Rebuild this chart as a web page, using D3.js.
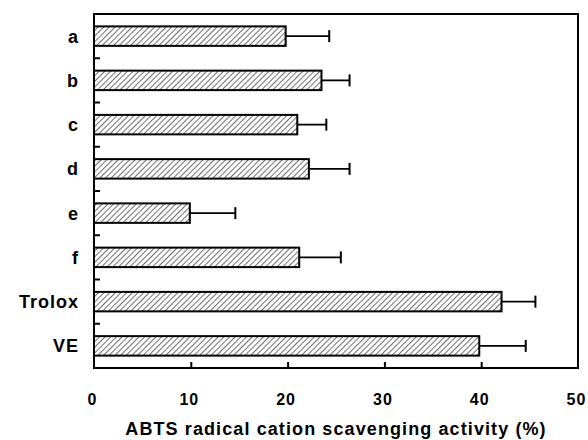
<!DOCTYPE html>
<html><head><meta charset="utf-8">
<script src="https://cdn.jsdelivr.net/npm/d3@7"></script>
<style>body{margin:0;background:#fff}svg{display:block}</style>
</head><body>
<script>
const categories = ["a","b","c","d","e","f","Trolox","VE"];
const values = [19.8, 23.5, 21.0, 22.2, 9.9, 21.2, 42.1, 39.8];
const errors = [4.5, 2.9, 3.0, 4.2, 4.7, 4.3, 3.5, 4.8];
const xTicks = [0,10,20,30,40,50];
const xLabel = "ABTS radical cation scavenging activity (%)";

const W = 588, H = 440;
const m = {l:94, r:10, t:14, b:72};
const FONT = "Liberation Sans, Arial, sans-serif";
const svg = d3.select("body").append("svg").attr("width",W).attr("height",H);
const defs = svg.append("defs");
const pat = defs.append("pattern").attr("id","hatch").attr("patternUnits","userSpaceOnUse")
  .attr("width",4).attr("height",4).attr("patternTransform","rotate(45)");
pat.append("rect").attr("width",4).attr("height",4).attr("fill","#fff");
pat.append("line").attr("x1",0).attr("y1",0).attr("x2",0).attr("y2",4)
  .attr("stroke","#222").attr("stroke-width",1.3);

const x = d3.scaleLinear().domain([0,50]).range([m.l, W-m.r]);
const y = d3.scaleBand().domain(categories).range([m.t, H-m.b]).paddingInner(0.56).paddingOuter(0.28);
const step = y.step();

const g = svg.append("g");
g.selectAll("rect.bar").data(categories).join("rect").attr("class","bar")
  .attr("x", x(0)).attr("y", d=>y(d))
  .attr("width", (d,i)=>x(values[i])-x(0)).attr("height", y.bandwidth())
  .attr("fill","url(#hatch)").attr("stroke","#000").attr("stroke-width",2);
categories.forEach((c,i)=>{
  const cy = y(c)+y.bandwidth()/2;
  g.append("line").attr("x1",x(values[i])).attr("x2",x(values[i]+errors[i]))
    .attr("y1",cy).attr("y2",cy).attr("stroke","#000").attr("stroke-width",1.8);
  g.append("line").attr("x1",x(values[i]+errors[i])).attr("x2",x(values[i]+errors[i]))
    .attr("y1",cy-6).attr("y2",cy+6).attr("stroke","#000").attr("stroke-width",2);
});
svg.append("rect").attr("x",m.l).attr("y",m.t).attr("width",W-m.r-m.l).attr("height",H-m.b-m.t)
  .attr("fill","none").attr("stroke","#000").attr("stroke-width",2);
const xa = svg.append("g").attr("transform",`translate(0,${H-m.b})`)
  .call(d3.axisBottom(x).tickValues(xTicks).tickSize(-6).tickPadding(24).tickFormat(d3.format("d")));
xa.select(".domain").remove();
xa.selectAll(".tick line").attr("stroke","#000").attr("stroke-width",2)
  .filter(d=>d===0||d===50).remove();
xa.selectAll(".tick text").attr("font-family",FONT).attr("dy",null)
  .attr("font-size",16).attr("font-weight","bold").attr("fill","#000")
  .attr("y",37).attr("letter-spacing",1).attr("dx",-2);
const bounds = categories.slice(1).map(c=>y(c)-y.paddingInner()*step/2);
svg.selectAll("line.yt").data(bounds).join("line").attr("class","yt")
  .attr("x1",m.l).attr("x2",m.l+6).attr("y1",d=>d).attr("y2",d=>d)
  .attr("stroke","#000").attr("stroke-width",2);
svg.selectAll("text.yl").data(categories).join("text").attr("class","yl")
  .attr("x",79).attr("y",d=>y(d)+y.bandwidth()/2+6.5)
  .attr("text-anchor","end").attr("font-family",FONT).attr("letter-spacing",1)
  .attr("font-size",18).attr("font-weight","bold").text(d=>d);
svg.append("text").attr("x",(m.l+W-m.r)/2).attr("y",435).attr("text-anchor","middle")
  .attr("font-family",FONT).attr("font-size",18).attr("letter-spacing",1.1)
  .attr("font-weight","bold").text(xLabel);
</script>
</body></html>
